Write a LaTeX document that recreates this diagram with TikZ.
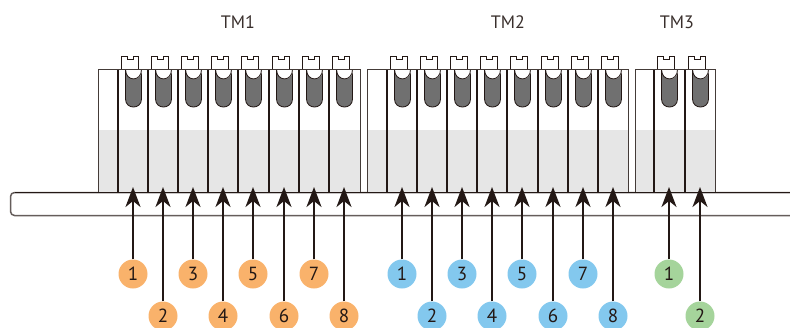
\documentclass[tikz,border=0pt]{standalone}
\usepackage{fontspec}
\setmainfont{PT Sans}
\usetikzlibrary{arrows.meta}
\definecolor{ink}{HTML}{231815}
\definecolor{lgray}{HTML}{E6E6E6}
\definecolor{tubec}{HTML}{707070}
\definecolor{orng}{HTML}{F9B26B}
\definecolor{blu}{HTML}{83C8EE}
\definecolor{grn}{HTML}{A5D49B}
\begin{document}
\begin{tikzpicture}[x=1pt,y=-1pt,
  outl/.style={draw=ink!85,line width=1pt},
  divl/.style={draw=ink,line width=2pt},
  tubel/.style={fill=tubec,draw=ink,line width=0.8pt},
  cupl/.style={fill=white,draw=ink,line width=0.8pt},
  lab/.style={circle,fill=#1,minimum size=29pt,inner sep=0pt,font=\fontsize{19}{19}\selectfont,text=ink},
  arr/.style={draw=ink,line width=2pt,-{Stealth[length=20pt,width=15pt,inset=6pt]}},
  title/.style={font=\fontsize{18}{20}\selectfont,text=ink!90}]
\useasboundingbox (0,0) rectangle (790,327);

% base bar
\draw[draw=ink!70,line width=1.5pt,fill=white,rounded corners=4pt] (10.5,192.5) rectangle (820,215.5);

% module boxes
\foreach \l/\r in {98.5/360.5,367.5/628.5,635.5/715.5} {
  \fill[white] (\l,69.5) rectangle (\r,130);
  \fill[lgray] (\l,130) rectangle (\r,192.5);
}

% slots
\foreach \c in {133,163,193,223,253,284,314,344,402,432,462,492,522,553,583,613,669,700} {
  \pgfmathsetmacro\tl{\c-8+0.5}
  \pgfmathsetmacro\tr{\c+8+0.5}
  \pgfmathsetmacro\dl{\c-3-8.5}
  \pgfmathsetmacro\dr{\c-3+8.5}
  \pgfmathsetmacro\nl{\c-3-3}
  \pgfmathsetmacro\nr{\c-3+3}
  \pgfmathsetmacro\dv{\c-15}
  \path[tubel] (\tl,69.5) -- (\tl,99) .. controls (\tl,109.7) and (\tr,109.7) .. (\tr,99) -- (\tr,69.5);
  \path[cupl] (\tl,69.5) .. controls (\tl,82) and (\tr,82) .. (\tr,69.5);
  \path[cupl] (\dl,69.5) -- (\dl,56.5) -- (\nl,56.5) -- (\nl,59.8) -- (\nr,59.8) -- (\nr,56.5) -- (\dr,56.5) -- (\dr,69.5);
  \draw[divl] (\dv,69.5) -- (\dv,192.5);
}

% box outlines
\foreach \l/\r in {98.5/360.5,367.5/628.5,635.5/715.5} {
  \draw[outl] (\l,192.5) -- (\l,69.5) -- (\r,69.5) -- (\r,192.5);
}
\draw[draw=ink,line width=1pt] (14.5,192.5) -- (790,192.5);

% titles
\node[title] (tm1) at (238,22) {TM1};
\node[title] (tm2) at (508,22) {TM2};
\node[title] (tm3) at (677,22) {TM3};

% labels and arrows
\foreach \n/\c/\y/\col/\t in {
  a1/133/274/orng/1, a2/163/316/orng/2, a3/193/274/orng/3, a4/223/316/orng/4,
  a5/253/274/orng/5, a6/284/316/orng/6, a7/314/274/orng/7, a8/344/316/orng/8,
  b1/402/274/blu/1, b2/432/316/blu/2, b3/462/274/blu/3, b4/492/316/blu/4,
  b5/522/274/blu/5, b6/553/316/blu/6, b7/583/274/blu/7, b8/613/316/blu/8,
  c1/669/274/grn/1, c2/700/316/grn/2} {
  \coordinate (\n tip) at (\c,187);
  \node[lab=\col] (\n) at (\c,\y) {\t};
  \draw[arr] (\n.north) -- (\n tip);
}
\end{tikzpicture}
\end{document}
